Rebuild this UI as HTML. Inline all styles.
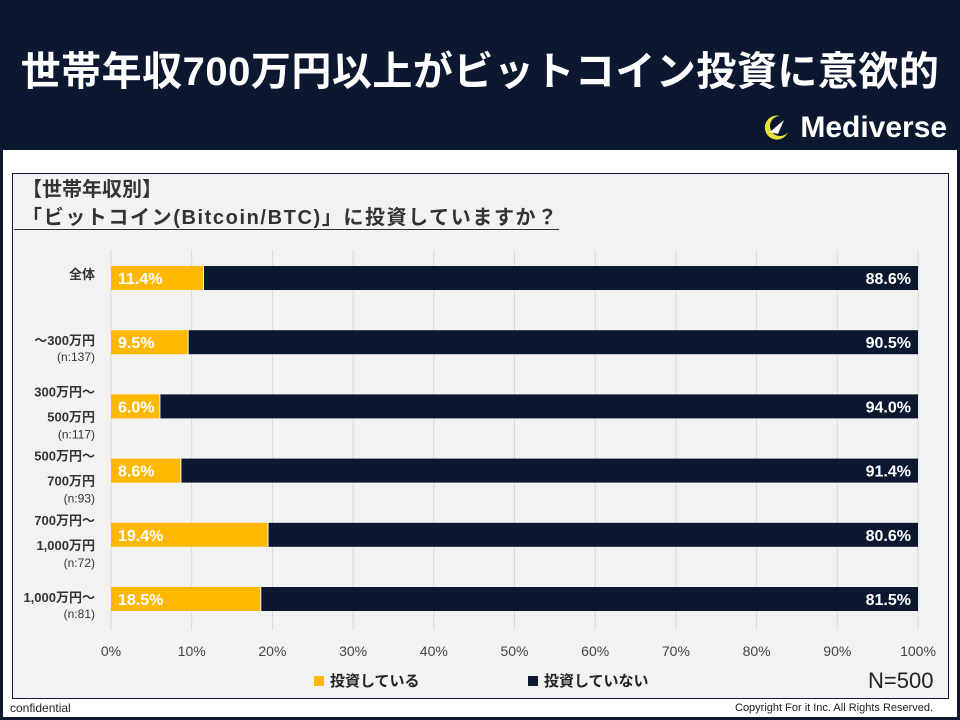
<!DOCTYPE html>
<html><head><meta charset="utf-8"><style>
body{margin:0;width:960px;height:720px;overflow:hidden;background:#0b1830;font-family:"Liberation Sans","Noto Sans CJK JP",sans-serif;position:relative}
.abs{position:absolute}
</style></head><body>
<div class="abs" style="left:0;top:0;width:960px;height:150px;background:#0b1830"></div>
<div class="abs" style="left:0;top:42px;width:960px;text-align:center;color:#fff;font-size:40px;letter-spacing:0.5px;font-weight:bold;line-height:60px;white-space:nowrap">世帯年収700万円以上がビットコイン投資に意欲的</div>
<div class="abs" style="left:758px;top:111px;color:#fff;font-size:30px;font-weight:bold;line-height:34px;white-space:nowrap">
<svg width="34" height="30" style="vertical-align:-5px"><path d="M22 4 A12 12 0 1 0 30 20 A10 10 0 1 1 22 4Z" fill="#e8e23a"/><path d="M12 20 L26 8 L20 22 Z" fill="#fff"/></svg> Mediverse</div>
<div class="abs" style="left:3px;top:150px;width:954px;height:567px;background:#fff"></div>
<div class="abs" style="left:12px;top:173px;width:935px;height:524px;background:#f2f2f2;border:1px solid #0b1830"></div>
<div class="abs" style="left:22px;top:176px;font-size:20px;font-weight:bold;color:#333;line-height:28px;white-space:nowrap">【世帯年収別】<br><span style="border-bottom:1px solid #333;padding-left:8px;margin-left:-8px;letter-spacing:1.6px">「ビットコイン(Bitcoin/BTC)」に投資していますか？</span></div>
<svg class="abs" style="left:0;top:0" width="960" height="720" id="chart"></svg>
<div class="abs" style="left:314px;top:670px;font-size:15px;font-weight:bold;color:#222"><span style="display:inline-block;width:10px;height:10px;background:#ffb800;margin-right:6px"></span>投資している</div>
<div class="abs" style="left:528px;top:670px;font-size:15px;font-weight:bold;color:#222"><span style="display:inline-block;width:10px;height:10px;background:#0b1830;margin-right:6px"></span>投資していない</div>
<div class="abs" style="left:868px;top:668px;font-size:22px;color:#222">N=500</div>
<div class="abs" style="left:10px;top:701px;font-size:12px;color:#222">confidential</div>
<div class="abs" style="left:735px;top:702px;font-size:11px;color:#222;white-space:nowrap">Copyright For it Inc. All Rights Reserved.</div>
<script>
const categories=[["全体"],["～300万円","(n:137)"],["300万円～","500万円","(n:117)"],["500万円～","700万円","(n:93)"],["700万円～","1,000万円","(n:72)"],["1,000万円～","(n:81)"]];
const invested=[11.4,9.5,6.0,8.6,19.4,18.5];
const notInvested=[88.6,90.5,94.0,91.4,80.6,81.5];
const ticks=[0,10,20,30,40,50,60,70,80,90,100];
const svg=document.getElementById('chart');const NS='http://www.w3.org/2000/svg';
const x=v=>111+v*8.07;const yc=i=>278+i*64.2;
function mk(t,a){const e=document.createElementNS(NS,t);for(const k in a)e.setAttribute(k,a[k]);svg.appendChild(e);return e;}
ticks.forEach(t=>{const g=mk('line',{x1:x(t),x2:x(t),y1:250,y2:630,stroke:'#d9d9d9','stroke-width':1});


const l=mk('text',{x:x(t),y:656,'text-anchor':'middle','font-size':14,fill:'#444'});l.textContent=t+'%';

});
categories.forEach((c,i)=>{
const a=mk('rect',{x:x(0),y:yc(i)-12,width:x(invested[i])-x(0),height:24,fill:'#ffb800'});


const b=mk('rect',{x:x(invested[i])+1,y:yc(i)-12,width:x(invested[i]+notInvested[i])-x(invested[i])-1,height:24,fill:'#0b1830'});


const t1=mk('text',{x:x(0)+7,y:yc(i)+6,'font-size':16,'font-weight':'bold',fill:'#fff'});t1.textContent=invested[i].toFixed(1)+'%';


const t2=mk('text',{x:x(100)-7,y:yc(i)+6,'text-anchor':'end','font-size':16,'font-weight':'bold',fill:'#fff'});t2.textContent=notInvested[i].toFixed(1)+'%';


const n=c.length;
c.forEach((s,j)=>{const isN=s.startsWith('(');
const yy=n===3?[yc(i)-10,yc(i)+15,yc(i)+32][j]:(n===2?[yc(i)+3,yc(i)+19][j]:yc(i)+1);
const l=mk('text',{x:95,y:yy,'text-anchor':'end','font-size':isN?12:13,'font-weight':isN?'normal':'bold',fill:'#333'});l.textContent=s;

});
});
</script>
</body></html>
